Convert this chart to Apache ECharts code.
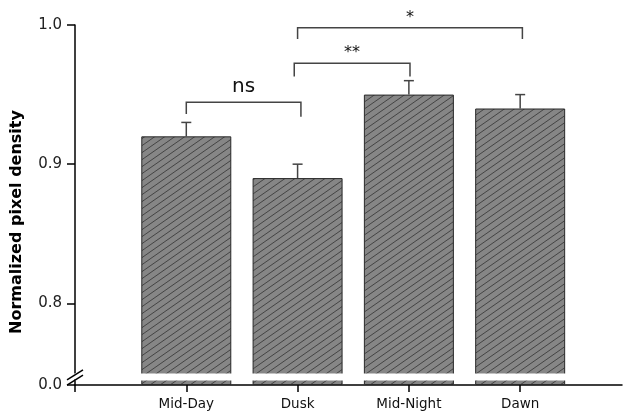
<!DOCTYPE html>
<html>
<head>
<meta charset="utf-8">
<script src="https://cdn.jsdelivr.net/npm/echarts@6/dist/echarts.min.js"></script>
<style>
html, body { margin: 0; padding: 0; background: #fff; }
#chart { width: 631px; height: 419px; }
</style>
</head>
<body>
<div id="chart"></div>
<script>
// data
var categories = ['Mid-Day', 'Dusk', 'Mid-Night', 'Dawn'];
var positions = [1, 2, 3, 4];
var means = [0.92, 0.89, 0.95, 0.94];
var errors = [0.01, 0.01, 0.01, 0.01];
var yTicks = [0, 0.8, 0.9, 1.0];
var xTicks = [0, 1, 2, 3, 4];
var breakStart = 0.0035;
var breakEnd = 0.75;

// significance brackets
var sigFrom = [1.0, 1.97, 2.0];
var sigTo = [2.03, 3.01, 4.02];
var sigY = [0.9445, 0.9725, 0.998];
var sigDropL = [0.936, 0.963, 0.990];
var sigDropR = [0.934, 0.963, 0.990];
var sigText = ['ns', '**', '*'];

var FONT = '"DejaVu Sans", Arial, sans-serif';
var chart = echarts.init(document.getElementById('chart'));

// hatch tile "///" for the bars
function makeHatch() {
	var w = 10, h = 7;
	var c = document.createElement('canvas');
	c.width = w;
	c.height = h;
	var ctx = c.getContext('2d');
	ctx.fillStyle = '#868686';
	ctx.fillRect(0, 0, w, h);
	ctx.strokeStyle = '#444';
	ctx.lineWidth = 1;
	ctx.beginPath();
	for (var k = 0; k <= 2; k++) {
		ctx.moveTo(-w, (k + 1) * h);
		ctx.lineTo(2 * w, (k - 2) * h);
	}
	ctx.stroke();
	return c;
}

var barData = [];
var errData = [];
for (var i = 0; i < categories.length; i++) {
	barData.push([positions[i], means[i]]);
	errData.push([positions[i], means[i], means[i] + errors[i]]);
}
var sigData = [];
for (var j = 0; j < sigText.length; j++) {
	sigData.push([sigFrom[j], sigTo[j], sigY[j], sigDropL[j], sigDropR[j], j]);
}

var option = {
	animation: false,
	grid: { left: 75, right: 9, top: 25, bottom: 34, containLabel: false, outerBoundsMode: 'none' },
	xAxis: {
		type: 'value',
		min: 0,
		max: 4.915,
		axisLine: { show: true, onZero: false, lineStyle: { color: '#000', width: 1.5 } },
		axisTick: { show: true, customValues: xTicks, length: 7, lineStyle: { color: '#000', width: 1.5 } },
		axisLabel: {
			customValues: positions,
			formatter: function (v) { return categories[positions.indexOf(v)] || ''; },
			fontFamily: FONT, fontSize: 13.5, color: '#111', margin: 12
		},
		splitLine: { show: false }
	},
	yAxis: {
		type: 'value',
		min: 0,
		max: 1.0,
		breaks: [{ start: breakStart, end: breakEnd, gap: '2%' }],
		breakArea: {
			show: true,
			expandOnClick: false,
			zigzagAmplitude: 0,
			itemStyle: { color: '#fff', borderColor: '#fff', borderWidth: 0, opacity: 1 }
		},
		axisLine: { show: true, lineStyle: { color: '#000', width: 1.5 } },
		axisTick: { show: true, customValues: yTicks, length: 8, lineStyle: { color: '#000', width: 1.5 } },
		axisLabel: {
			customValues: yTicks,
			formatter: function (v) { return v.toFixed(1); },
			fontFamily: FONT, fontSize: 15, color: '#222', margin: 13
		},
		splitLine: { show: false },
		name: 'Normalized pixel density',
		nameLocation: 'middle',
		nameGap: 50,
		nameTextStyle: { fontFamily: FONT, fontWeight: 'bold', fontSize: 16, color: '#000', padding: [0, 34, 0, 0] }
	},
	series: [
		{
			type: 'bar',
			data: barData,
			barWidth: 90,
			itemStyle: {
				color: { image: makeHatch(), repeat: 'repeat' },
				borderColor: '#2a2a2a',
				borderWidth: 1
			}
		},
		{
			// error bars (upper only)
			type: 'custom',
			data: errData,
			clip: false,
			renderItem: function (params, api) {
				var base = api.coord([api.value(0), api.value(1)]);
				var top = api.coord([api.value(0), api.value(2)]);
				var st = { stroke: '#444', lineWidth: 1.5 };
				return {
					type: 'group',
					children: [
						{ type: 'line', shape: { x1: base[0], y1: base[1], x2: top[0], y2: top[1] }, style: st },
						{ type: 'line', shape: { x1: top[0] - 5, y1: top[1], x2: top[0] + 5, y2: top[1] }, style: st }
					]
				};
			}
		},
		{
			// significance brackets
			type: 'custom',
			data: sigData,
			clip: false,
			renderItem: function (params, api) {
				var l = api.coord([api.value(0), api.value(2)]);
				var r = api.coord([api.value(1), api.value(2)]);
				var ld = api.coord([api.value(0), api.value(3)]);
				var rd = api.coord([api.value(1), api.value(4)]);
				var txt = sigText[api.value(5)];
				var isNs = txt === 'ns';
				return {
					type: 'group',
					children: [
						{
							type: 'polyline',
							shape: { points: [[l[0], ld[1]], [l[0], l[1]], [r[0], r[1]], [r[0], rd[1]]] },
							style: { stroke: '#444', lineWidth: 1.5, fill: null }
						},
						{
							type: 'text',
							style: {
								x: (l[0] + r[0]) / 2,
								y: l[1] - (isNs ? 15 : 10),
								text: txt,
								align: 'center',
								verticalAlign: 'middle',
								fontFamily: FONT,
								fontSize: isNs ? 20 : 16,
								fill: '#111'
							}
						}
					]
				};
			}
		}
	]
};

chart.setOption(option);

// "//" break marks on the y axis
var pA = chart.convertToPixel({ gridIndex: 0 }, [0, breakStart]);
var pB = chart.convertToPixel({ gridIndex: 0 }, [0, breakEnd]);
var marks = [];
[[pA, 0], [pB, 2]].forEach(function (item) {
	var p = item[0], dy = item[1];
	marks.push({
		type: 'line',
		shape: { x1: p[0] - 8, y1: p[1] + dy + 5, x2: p[0] + 8, y2: p[1] + dy - 5 },
		style: { stroke: '#000', lineWidth: 1.5 },
		z: 200
	});
});
chart.setOption({ graphic: marks });
</script>
</body>
</html>
